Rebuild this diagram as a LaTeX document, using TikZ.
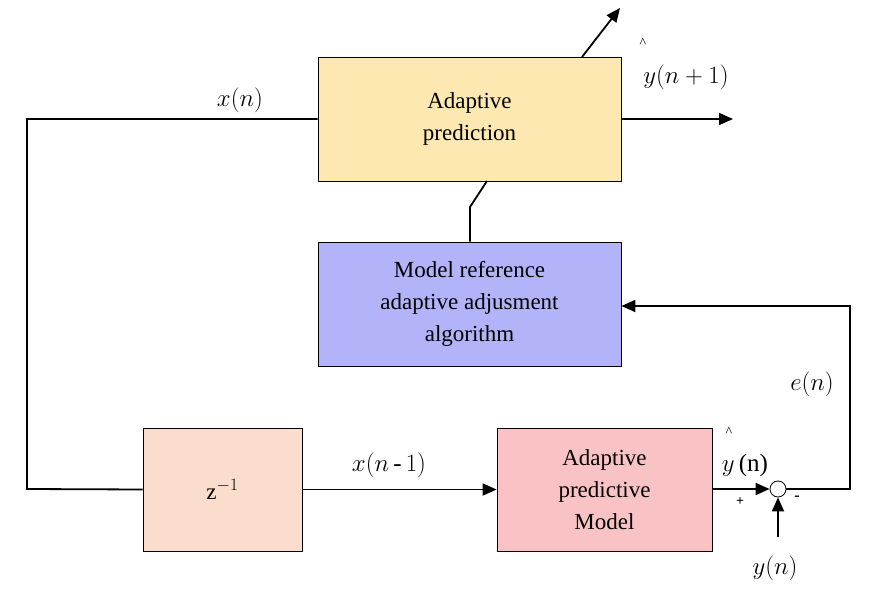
\documentclass[tikz,border=0pt]{standalone}
\usepackage{fontspec}
\setmainfont{Liberation Serif}
\usetikzlibrary{arrows.meta}
\begin{document}
\begin{tikzpicture}[x=1pt,y=-1pt,
  blk/.style={draw,line width=0.8pt,align=center,font=\fontsize{23}{32}\selectfont,inner sep=0pt},
  wire/.style={line width=1.8pt},
  arr/.style={wire,-{Triangle[length=14pt,width=12pt]}},
  lbl/.style={font=\fontsize{25}{28}\selectfont,inner sep=0pt}]
\useasboundingbox (0,0) rectangle (881,596);
\node[blk,fill={rgb,255:red,252;green,232;blue,176},minimum width=303pt,minimum height=124pt] (ap) at (469.5,119) {Adaptive\\prediction};
\node[blk,fill={rgb,255:red,179;green,179;blue,250},minimum width=303pt,minimum height=124pt] (mr) at (469.5,304) {Model reference\\adaptive adjusment\\algorithm};
\node[blk,fill={rgb,255:red,250;green,221;blue,204},minimum width=159pt,minimum height=123pt] (z) at (222.5,489.5) {z$^{-1}$};
\node[blk,fill={rgb,255:red,249;green,195;blue,198},minimum width=215pt,minimum height=123pt] (pm) at (604.5,489.5) {Adaptive\\predictive\\Model};
\node[draw,circle,line width=0.8pt,minimum size=16pt,inner sep=0pt] (s) at (778,489) {};
\coordinate (c1) at (27,119);
\coordinate (c2) at (27,489);
\coordinate (o1) at (733,119);
\coordinate (d0) at (582,57);
\coordinate (d1) at (620,8);
\coordinate (k1) at (470,207);
\coordinate (e1) at (850,489);
\coordinate (e2) at (850,306);
\coordinate (yb) at (778,537);
\draw[wire] (ap.west) -- (c1) -- (c2) -- (z.west);
\draw[arr] (z.east) -- (z.east -| pm.west);
\draw[arr] (ap.east) -- (o1);
\draw[arr] (d0) -- (d1);
\draw[wire] (487,181) -- (k1) -- (mr.north -| k1);
\draw[arr] (712,489) -- (s.west);
\draw[arr] (s.east) -- (e1) -- (e2) -- (e2 -| mr.east);
\draw[arr] (yb) -- (s.south);
\node[lbl] (lx) at (240,100) {$x(n)$};
\node[lbl] (ly1) at (686,77) {$y(n+1)$};
\node[lbl] (le) at (812,384) {$e(n)$};
\node[lbl] (lx1) at (389,465) {$x(n\,\mbox{-}\,1)$};
\node[lbl] (lyn) at (745,465) {$y\,$(n)};
\node[font=\fontsize{14}{14}\selectfont] (h1) at (729,432) {\^{}};
\node[font=\fontsize{14}{14}\selectfont] (h2) at (643,43) {\^{}};
\node[lbl] (ly) at (775,568) {$y(n)$};
\node[font=\bfseries\fontsize{14}{14}\selectfont] (pl) at (740,502) {+};
\node[font=\bfseries\fontsize{16}{16}\selectfont] (mi) at (797,498) {-};
\end{tikzpicture}
\end{document}
